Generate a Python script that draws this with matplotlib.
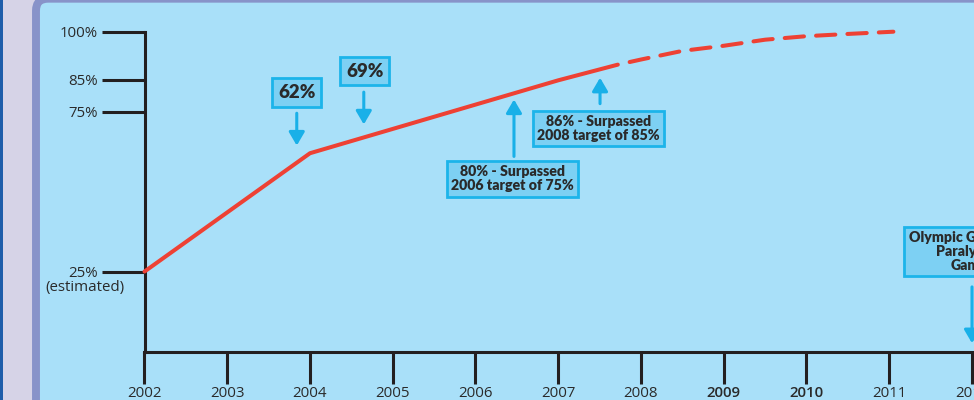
import matplotlib
matplotlib.use('Agg')
import matplotlib.pyplot as plt
from matplotlib.patches import Rectangle, FancyBboxPatch
from matplotlib.transforms import Affine2D

# ---------------- data ----------------
years_actual = [2002, 2004, 2005, 2006, 2007, 2007.72]
pct_actual = [25, 62, 69.6, 77.2, 84.8, 89.7]

years_projected = [2007.72, 2008, 2008.5, 2009, 2009.5, 2010, 2010.5, 2011.05]
pct_projected = [89.7, 91.3, 94.0, 95.6, 97.5, 98.6, 99.3, 100]

year_ticks = [2002, 2003, 2004, 2005, 2006, 2007, 2008, 2009, 2010, 2011, 2012]
year_labels = ['2002', '2003', '2004', '2005', '2006', '2007', '2008', '2009', '2010', '2011', '2012']
bold_years = ['2009', '2010']

pct_ticks = [25, 75, 85, 100]
pct_labels = ['25%', '75%', '85%', '100%']
estimated_note = '(estimated)'

callout_texts = ['62%', '69%',
                 '80% - Surpassed\n2006 target of 75%',
                 '86% - Surpassed\n2008 target of 85%',
                 'Olympic Games and\nParalympic\nGames']

# ---------------- styles ----------------
W, H = 974, 400
RED = '#ee4134'
AXIS = '#231f20'
PANEL = '#a9e0f9'
BOX_FILL = '#7dd0f3'
BOX_EDGE = '#1cb4ea'
ARROW = '#19b0e8'
TXT = '#2a2a2a'
LABEL_FONT = ['Open Sans', 'Noto Sans', 'DejaVu Sans']
BOX_FONT = ['Lato', 'DejaVu Sans']

fig = plt.figure(figsize=(W / 100, H / 100), dpi=100)
fig.patch.set_facecolor('#d6d3e7')
px = Affine2D().scale(1 / W, -1 / H).translate(0, 1) + fig.transFigure
fig.patches.append(Rectangle((0, 0), 2.5, H, transform=px, zorder=-10,
                             facecolor='#1f5daa', edgecolor='none'))
fig.patches.append(FancyBboxPatch((36, -1.3), 1100, 600,
                                  boxstyle='round,pad=0,rounding_size=12',
                                  transform=px, facecolor=PANEL, zorder=-10,
                                  edgecolor='#8893c9', linewidth=5.7))

x0_px, y0_px, y100_px, px_per_year = 144.5, 351.5, 31.7, 82.75
ax = fig.add_axes([x0_px / W, (H - y0_px) / H, (W - x0_px) / W, (y0_px - y100_px) / H])
ax.set_xlim(2002, 2002 + (W - x0_px) / px_per_year)
ax.set_ylim(0, 100)
ax.patch.set_alpha(0)

for s in ['top', 'right']:
    ax.spines[s].set_visible(False)
for s in ['left', 'bottom']:
    ax.spines[s].set_linewidth(2.2)
    ax.spines[s].set_color(AXIS)

lab_kw = dict(family=LABEL_FONT, color=TXT)
ax.set_xticks(year_ticks)
ax.set_xticklabels(year_labels, fontsize=10.8, **lab_kw)
for lab in ax.get_xticklabels():
    if lab.get_text() in bold_years:
        lab.set_fontweight('semibold')
ax.set_yticks(pct_ticks)
ax.set_yticklabels(pct_labels, fontsize=10.8, **lab_kw)
ax.tick_params(axis='x', direction='out', length=22.7, width=2.2, color=AXIS, pad=2.4)
ax.tick_params(axis='y', direction='out', length=31, width=2.2, color=AXIS, pad=2.9)

ax.annotate(estimated_note, xy=(0, pct_ticks[0]), xycoords=('axes fraction', 'data'),
            xytext=(-43.2, -11.4), textcoords='offset points',
            ha='center', va='center', fontsize=10.8, **lab_kw)

# lines
ax.plot(years_actual, pct_actual, color=RED, lw=2.9, solid_capstyle='round',
        solid_joinstyle='round', clip_on=False, zorder=3)
ax.plot(years_projected, pct_projected, color=RED, lw=2.9,
        linestyle=(4.8, (4.8, 3.0)), dash_capstyle='round', clip_on=False, zorder=3)

# callouts: (text, box centre, arrow tail, arrow tip, fontsize, pad)
callouts = [
    (callout_texts[0], (2003.84, 81.0), (2003.84, 74.5), (2003.84, 64.4), 13.5, 0.3),
    (callout_texts[1], (2004.66, 87.6), (2004.65, 81.1), (2004.65, 71.0), 13.5, 0.3),
    (callout_texts[2], (2006.45, 54.0), (2006.465, 61.0), (2006.465, 78.8), 10.2, 0.3),
    (callout_texts[3], (2007.49, 69.7), (2007.505, 77.5), (2007.505, 85.6), 10.2, 0.3),
    (callout_texts[4], (2012.0, 31.3), (2012.0, 20.2), (2012.0, 2.6), 10.2, 0.3),
]
for text, centre, tail, tip, fs, pad in callouts:
    ax.text(centre[0], centre[1], text, ha='center', va='center', ma='center',
            family=BOX_FONT, fontweight='heavy', fontsize=fs, color=TXT,
            linespacing=1.1, zorder=5, clip_on=False,
            bbox=dict(boxstyle=f'square,pad={pad}', facecolor=BOX_FILL,
                      edgecolor=BOX_EDGE, linewidth=2.0))
    ax.annotate('', xy=tip, xytext=tail, zorder=4, annotation_clip=False,
                arrowprops=dict(arrowstyle='-|>,head_length=0.8,head_width=0.47',
                                mutation_scale=10, color=ARROW, lw=2.2,
                                shrinkA=0, shrinkB=0))

fig.savefig('out.png', dpi=100, facecolor=fig.get_facecolor())
